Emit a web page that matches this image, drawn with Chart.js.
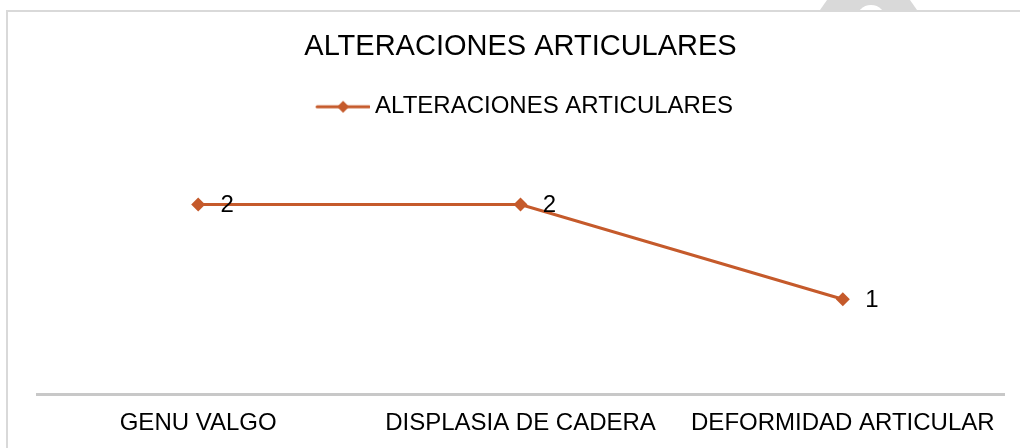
<!DOCTYPE html>
<html>
<head>
<meta charset="utf-8">
<script src="https://cdn.jsdelivr.net/npm/chart.js@4.4.1/dist/chart.umd.min.js"></script>
<style>
    html, body { margin: 0; padding: 0; background: #fff; overflow: hidden; }
    #wrap { position: relative; width: 1020px; height: 448px; }
    #blob { position: absolute; left: 820px; top: 0; width: 97px; height: 10px; background: #d9d9d9;
            clip-path: polygon(7px 0, 90px 0, 97px 10px, 0 10px); }
    #hole { position: absolute; left: 856px; top: 5px; width: 30px; height: 30px; border-radius: 50%; background: #fff; }
    #frame { position: absolute; left: 6px; top: 10px; width: 1100px; height: 500px; border: 2px solid #d9d9d9; background: #fff; }
    #chartBox { position: absolute; left: 0; top: 0; width: 1020px; height: 448px; }
</style>
</head>
<body>
<div id="wrap">
    <div id="blob"></div>
    <div id="hole"></div>
    <div id="frame"></div>
    <div id="chartBox"><canvas id="alteracionesChart" width="1020" height="448"></canvas></div>
</div>
<script>
    const chartTitle = 'ALTERACIONES ARTICULARES';
    const categories = ['GENU VALGO', 'DISPLASIA DE CADERA', 'DEFORMIDAD ARTICULAR'];
    const seriesName = 'ALTERACIONES ARTICULARES';
    const seriesValues = [2, 2, 1];

    const lineColor = '#c55a2b';
    const fontFamily = "'Liberation Sans', Arial, sans-serif";

    // legend symbol: line with a diamond in the middle
    function makeLegendSymbol() {
        const c = document.createElement('canvas');
        c.width = 69;
        c.height = 16;
        const g = c.getContext('2d');
        g.strokeStyle = lineColor;
        g.lineWidth = 3;
        g.lineCap = 'round';
        g.beginPath();
        g.moveTo(16, 8);
        g.lineTo(68, 8);
        g.stroke();
        g.fillStyle = lineColor;
        g.beginPath();
        g.moveTo(42, 2);
        g.lineTo(48, 8);
        g.lineTo(42, 14);
        g.lineTo(36, 8);
        g.closePath();
        g.fill();
        return c;
    }
    const legendSymbol = makeLegendSymbol();

    const valueLabels = {
        id: 'valueLabels',
        afterDatasetsDraw(chart) {
            const ctx = chart.ctx;
            ctx.save();
            ctx.font = '24px ' + fontFamily;
            ctx.fillStyle = '#000';
            ctx.textAlign = 'center';
            ctx.textBaseline = 'middle';
            chart.data.datasets.forEach((ds, i) => {
                chart.getDatasetMeta(i).data.forEach((pt, j) => {
                    ctx.fillText(String(ds.data[j]), pt.x + 29, pt.y + 1);
                });
            });
            ctx.restore();
        }
    };

    const ctx = document.getElementById('alteracionesChart').getContext('2d');
    new Chart(ctx, {
        type: 'line',
        data: {
            labels: categories,
            datasets: [{
                label: seriesName,
                data: seriesValues,
                borderColor: lineColor,
                backgroundColor: lineColor,
                borderWidth: 3,
                tension: 0,
                fill: false,
                pointStyle: 'rectRot',
                pointRadius: 7,
                pointHoverRadius: 7,
                pointBorderWidth: 0,
                pointBackgroundColor: lineColor
            }]
        },
        options: {
            responsive: false,
            animation: false,
            layout: { padding: { left: 37, right: 16, top: 10, bottom: 0 } },
            plugins: {
                title: {
                    display: true,
                    text: chartTitle,
                    color: '#000',
                    font: { family: fontFamily, size: 29, weight: 'normal' },
                    padding: { top: 20, bottom: 20 }
                },
                legend: {
                    display: true,
                    position: 'top',
                    labels: {
                        usePointStyle: true,
                        pointStyleWidth: 55,
                        color: '#000',
                        font: { family: fontFamily, size: 24 },
                        padding: 10,
                        generateLabels: (chart) => chart.data.datasets.map((ds, i) => ({
                            text: ds.label,
                            pointStyle: legendSymbol,
                            fillStyle: lineColor,
                            strokeStyle: lineColor,
                            lineWidth: 0,
                            datasetIndex: i
                        }))
                    }
                },
                tooltip: { enabled: false }
            },
            scales: {
                x: {
                    offset: true,
                    grid: { display: false, drawTicks: false },
                    border: { display: true, color: '#c8c8c8', width: 3 },
                    ticks: {
                        color: '#000',
                        font: { family: fontFamily, size: 24 },
                        padding: 15,
                        autoSkip: false,
                        maxRotation: 0
                    },
                    afterFit: (scale) => { scale.height = 54; }
                },
                y: {
                    display: false,
                    min: 0,
                    max: 2.8
                }
            }
        },
        plugins: [valueLabels]
    });
</script>
</body>
</html>
